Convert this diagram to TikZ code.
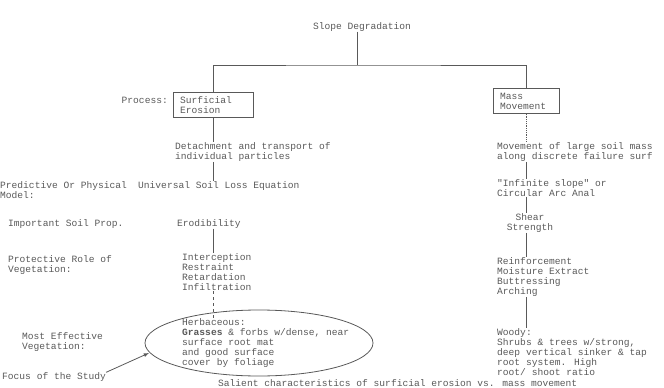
\documentclass[tikz,border=0pt]{standalone}
\usepackage{fontspec}
\newfontfamily\typefont{Liberation Mono}
\definecolor{ink}{gray}{0.35}
\tikzset{
  txt/.style={font=\typefont\fontsize{9.6}{10.2}\selectfont, text=ink, inner sep=0pt, align=left},
  procbox/.style={txt, draw=ink, line width=1pt, inner xsep=7pt, inner ysep=4pt},
  link/.style={draw=ink, line width=0.8pt}
}
\begin{document}
\begin{tikzpicture}[x=1pt,y=-1pt]
\useasboundingbox (0,0) rectangle (664,388);

\node[txt] (title) at (362,27) {Slope Degradation};
\coordinate (split) at (357,65);

\node[procbox,text width=66pt] (surf) at (213,105) {Surficial\\Erosion};
\node[txt,anchor=east] (process) at (168,100) {Process:};
\node[procbox,text width=52pt] (mass) at (526,101) {Mass\\Movement};

\draw[link] (split |- title.south) -- (split);
\draw[link] (surf.north) |- (split) -| (mass.north);

% surficial erosion column
\node[txt,anchor=west] (detach) at (175,152) {Detachment and transport of\\individual particles};
\node[txt,anchor=north west] (model) at (0,181) {Predictive Or Physical\\Model:};
\node[txt,anchor=west] (usle) at (138,186) {Universal Soil Loss Equation};
\node[txt,anchor=west] (soilprop) at (8,224) {Important Soil Prop.};
\node[txt,anchor=west] (erod) at (177,224) {Erodibility};
\node[txt,anchor=north west] (protect) at (8,255) {Protective Role of\\Vegetation:};
\node[txt,anchor=north west] (roles) at (182,253) {Interception\\Restraint\\Retardation\\Infiltration};
\node[txt,anchor=north west] (most) at (22,332) {Most Effective\\Vegetation:};
\node[txt,anchor=north west] (herb) at (182,318) {Herbaceous:\\\textbf{Grasses} \& forbs w/dense, near\\surface root mat\\and good surface\\cover by foliage};

\draw[link] (surf.south) -- (surf.south |- detach.north);
\draw[link] (detach.south -| surf) -- (usle.north -| surf);
\draw[link] (erod.south -| surf) -- (roles.north -| surf);
\draw[link,dashed] (roles.south -| surf) -- (herb.north -| surf);

\draw[link] (259,343) ellipse [x radius=114, y radius=33];
\coordinate (ellpt) at (149,353);
\node[txt,anchor=west] (focus) at (2,377) {Focus of the Study};
\draw[link,-latex] (focus.north east) -- (ellpt);

% mass movement column
\node[txt,anchor=west] (movem) at (497,152) {Movement of large soil mass\\along discrete failure surf};
\node[txt,anchor=west] (infslope) at (497,188) {"Infinite slope" or\\Circular Arc Anal};
\node[txt,align=center] (shear) at (530,223) {Shear\\Strength};
\node[txt,anchor=north west] (reinf) at (497,257) {Reinforcement\\Moisture Extract\\Buttressing\\Arching};
\node[txt,anchor=north west] (woody) at (497,328) {Woody:\\Shrubs \& trees w/strong,\\deep vertical sinker \& tap\\root system. High\\root/ shoot ratio};

\draw[link,densely dotted] (mass.south) -- (mass.south |- movem.north);
\draw[link] (movem.south -| mass) -- (infslope.north -| mass);
\draw[link] (infslope.south -| mass) -- (shear.north -| mass);
\draw[link] (shear.south -| mass) -- (reinf.north -| mass);
\draw[link] (reinf.south -| mass) -- (woody.north -| mass);

\node[txt,anchor=west] (caption) at (218,383) {Salient characteristics of surficial erosion vs. mass movement};
\end{tikzpicture}
\end{document}
